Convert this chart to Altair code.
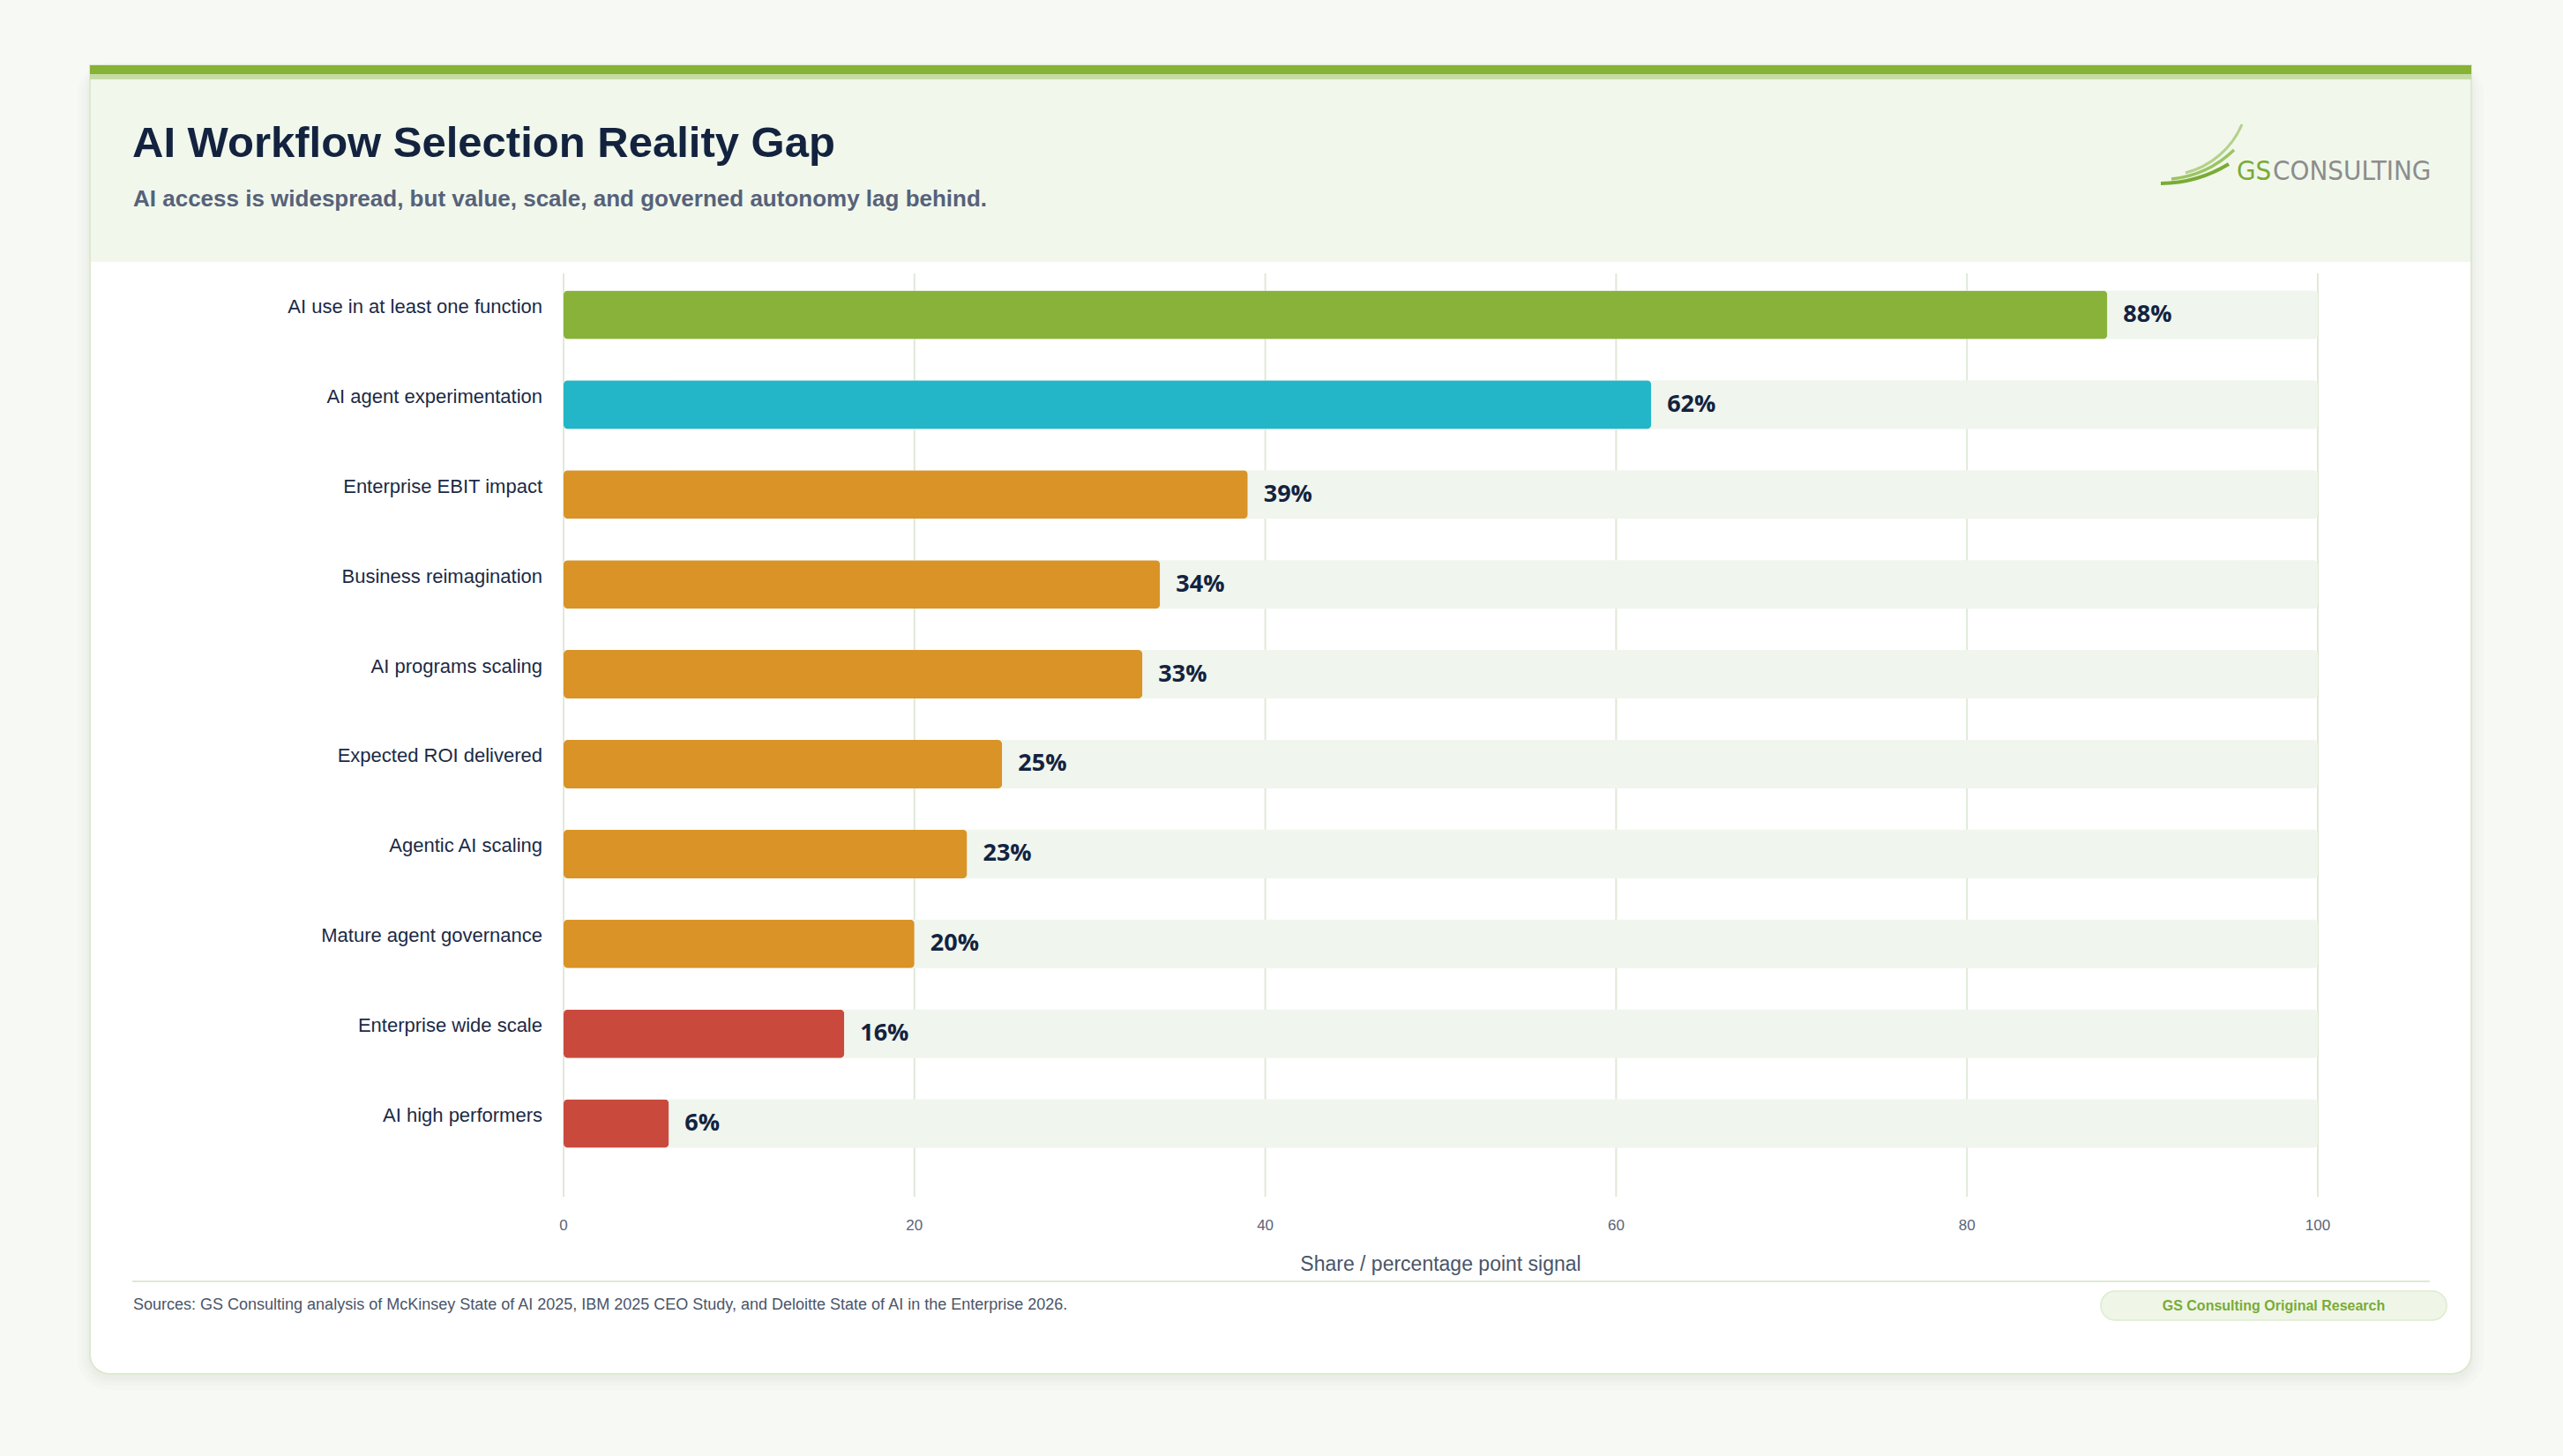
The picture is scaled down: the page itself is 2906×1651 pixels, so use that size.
import math

import altair as alt
import pandas as pd

# ---- data -----------------------------------------------------------------
categories = [
    "AI use in at least one function",
    "AI agent experimentation",
    "Enterprise EBIT impact",
    "Business reimagination",
    "AI programs scaling",
    "Expected ROI delivered",
    "Agentic AI scaling",
    "Mature agent governance",
    "Enterprise wide scale",
    "AI high performers",
]
values = [88, 62, 39, 34, 33, 25, 23, 20, 16, 6]
tiers = ["adoption", "experimentation", "value", "value", "value",
         "value", "value", "value", "scale", "scale"]

tier_domain = ["adoption", "experimentation", "value", "scale"]
tier_colors = ["#88b23a", "#22b6c8", "#d99327", "#c94a3d"]

grid_ticks = [0, 20, 40, 60, 80, 100]

TITLE = "AI Workflow Selection Reality Gap"
SUBTITLE = "AI access is widespread, but value, scale, and governed autonomy lag behind."
X_TITLE = "Share / percentage point signal"
SOURCES = ("Sources: GS Consulting analysis of McKinsey State of AI 2025, IBM 2025 CEO Study, "
           "and Deloitte State of AI in the Enterprise 2026.")
BADGE = "GS Consulting Original Research"

# ---- layout (pixels) ------------------------------------------------------
CANVAS_W, CANVAS_H = 2906, 1651
PLOT_L, PLOT_T, PLOT_W, PLOT_H = 639, 310, 1989, 1047


def px(x):
    """Canvas x -> plot-relative x."""
    return x - PLOT_L


def py(y):
    """Canvas y -> plot-relative y."""
    return y - PLOT_T


FONT = "Liberation Sans, Arial, Helvetica, sans-serif"
NAVY = "#13233f"

df = pd.DataFrame({
    "category": categories,
    "value": values,
    "tier": tiers,
    "label": [f"{v}%" for v in values],
    "track_start": [0] * len(values),
    "track_end": [100] * len(values),
})
grid_df = pd.DataFrame({"tick": grid_ticks})
one = pd.DataFrame({"k": [0]})

x_scale = alt.Scale(domain=[0, 100], nice=False, zero=True)
y_scale = alt.Scale(paddingInner=0.46, paddingOuter=0.3675, align=0.26)


def deco():
    return alt.Chart(one)


def box(x0, x1, y0, y1, **mark):
    return deco().mark_rect(**mark).encode(
        x=alt.value(px(x0)), x2=alt.value(px(x1)),
        y=alt.value(py(y0)), y2=alt.value(py(y1)),
    )


def label(text, x, y, **mark):
    return deco().mark_text(text=text, **mark).encode(
        x=alt.value(px(x)), y=alt.value(py(y))
    )


def swoosh(p1, p2, r, width, color):
    """Thin circular arc bulging to the lower right between two points."""
    (x1, y1), (x2, y2) = p1, p2
    mx, my = (x1 + x2) / 2, (y1 + y2) / 2
    dx, dy = x2 - x1, y2 - y1
    L = math.hypot(dx, dy)
    h = math.sqrt(max(r * r - (L / 2) ** 2, 0))
    cx, cy = mx + h * dy / L, my - h * dx / L
    t1 = math.atan2(x1 - cx, -(y1 - cy))
    t2 = math.atan2(x2 - cx, -(y2 - cy))
    lo, hi = min(t1, t2), max(t1, t2)
    return deco().mark_arc(
        theta=lo, theta2=hi, radius=r - width / 2, radius2=r + width / 2,
        color=color,
    ).encode(x=alt.value(px(cx)), y=alt.value(py(cy)))


# ---- card and header -----------------------------------------------------
CARD_L, CARD_R, CARD_T, CARD_B = 102, 2802, 74, 1558

shadows = [
    box(CARD_L - g, CARD_R + g, CARD_T + 4 - g / 2, CARD_B + 4 + g,
        color="#5a6a50", opacity=0.018, cornerRadius=22 + g)
    for g in (14, 9, 5, 2)
]
card = box(CARD_L, CARD_R, CARD_T, CARD_B, color="#ffffff", stroke="#dde9d0",
           strokeWidth=2, cornerRadiusBottomLeft=22, cornerRadiusBottomRight=22)
header = box(CARD_L + 1, CARD_R - 1, 90, 297, color="#f1f7eb")
strip_dark = box(CARD_L, CARD_R, 74, 84, color="#86b236")
strip_light = box(CARD_L, CARD_R, 84, 90, color="#c6dca6")

title = label(TITLE, 150, 178, align="left", baseline="alphabetic",
              font=FONT, fontSize=49, fontWeight="bold", color=NAVY)
subtitle = label(SUBTITLE, 151, 234, align="left", baseline="alphabetic",
                 font=FONT, fontSize=26, fontWeight="bold", color="#56627a")

# logo: three swooshes plus the word mark
logo = [
    swoosh((2478, 196), (2542, 141), 95, 3.0, "#b3d28a"),
    swoosh((2462, 203), (2533, 170), 120, 3.5, "#9cc463"),
    swoosh((2450, 208), (2527, 186), 150, 4.0, "#7aab35"),
]
LOGO_FONT = "Liberation Sans Narrow, DejaVu Sans Condensed, Liberation Sans, sans-serif"
logo_gs = label("GS", 2536, 204, align="left", baseline="alphabetic",
                font=LOGO_FONT, fontSize=31, color="#7aab35")
logo_rest = label("CONSULTING", 2577, 204, align="left", baseline="alphabetic",
                  font=LOGO_FONT, fontSize=31, color="#8c8c8c")

# ---- footer ----------------------------------------------------------------
footer_rule = box(150, 2755, 1452, 1454, color="#dcebd0")
sources = label(SOURCES, 151, 1480, align="left", baseline="middle",
                font=FONT, fontSize=18, color="#4a5568")
badge = box(2382, 2774, 1464, 1497, color="#eff6e7", stroke="#dcebcf",
            strokeWidth=1.5, cornerRadius=16)
badge_text = label(BADGE, 2578, 1481, align="center", baseline="middle",
                   font=FONT, fontSize=16, fontWeight="bold", color="#7aab35")

# ---- chart layers ----------------------------------------------------------
x_track = alt.X("track_start:Q", scale=x_scale, axis=None)
y_cat = alt.Y("category:N", sort=categories, scale=y_scale, axis=None)

grid = alt.Chart(grid_df).mark_rule(color="#e0e9d7", strokeWidth=2).encode(
    x=alt.X("tick:Q", scale=x_scale, axis=None)
)

# x tick labels and axis title below the plot
tick_labels = alt.Chart(grid_df).mark_text(
    baseline="middle", dy=33, font=FONT, fontSize=17, color="#5a6478",
).encode(
    x=alt.X("tick:Q", scale=x_scale, axis=None),
    y=alt.value("height"),
    text="tick:Q",
)
x_title = label(X_TITLE, (PLOT_L + PLOT_L + PLOT_W) / 2, 1434, align="center",
                baseline="middle", font=FONT, fontSize=23, color="#4a5568")

base = alt.Chart(df)

tracks = base.mark_bar(color="#f0f5ee", cornerRadius=5).encode(
    y=y_cat, x=x_track, x2="track_end",
)

bars = base.mark_bar(cornerRadius=5).encode(
    y=y_cat,
    x=alt.X("value:Q", scale=x_scale, axis=None),
    color=alt.Color("tier:N", scale=alt.Scale(domain=tier_domain, range=tier_colors),
                    legend=None),
)

# category names to the left of the zero line
cat_labels = base.mark_text(
    align="right", baseline="middle", dx=-24, dy=-9,
    font=FONT, fontSize=22, color="#1b2a45",
).encode(y=y_cat, x=x_track, text="category:N")

value_text = base.mark_text(
    align="left", baseline="middle", dx=18, font="Open Sans, " + FONT,
    fontSize=27, fontWeight="bold", color=NAVY,
).encode(
    y=y_cat,
    x=alt.X("value:Q", scale=x_scale, axis=None),
    text="label:N",
)

chart = alt.layer(
    *shadows, card, header, strip_dark, strip_light,
    grid, tracks, bars, value_text, cat_labels, tick_labels, x_title,
    title, subtitle, *logo, logo_gs, logo_rest,
    footer_rule, sources, badge, badge_text,
).properties(
    width=PLOT_W,
    height=PLOT_H,
    padding={"left": PLOT_L, "top": PLOT_T,
             "right": CANVAS_W - PLOT_L - PLOT_W,
             "bottom": CANVAS_H - PLOT_T - PLOT_H},
    autosize=alt.AutoSizeParams(type="none"),
    background="#f7f9f4",
).configure_view(stroke=None)

chart.save("out.html", embed_options={"renderer": "svg", "actions": False})
